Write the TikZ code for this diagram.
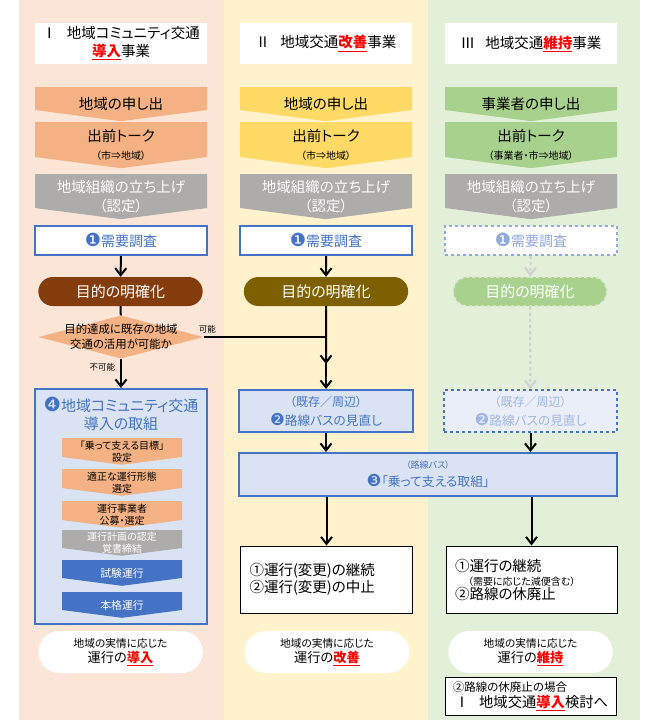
\documentclass[tikz,border=0pt]{standalone}
\usepackage{fontspec}
\setmainfont[RawFeature=+palt]{Noto Sans CJK JP}
\newfontfamily\simboli[Scale=1.3]{DejaVu Sans}
\usetikzlibrary{shapes.geometric,shapes.misc,arrows.meta}

\definecolor{sfondoA}{HTML}{FBE5D6}
\definecolor{sfondoB}{HTML}{FFF2CC}
\definecolor{sfondoC}{HTML}{E2F0D9}
\definecolor{arancio}{HTML}{F4B183}
\definecolor{giallo}{HTML}{FFD966}
\definecolor{verde}{HTML}{A9D18E}
\definecolor{grigio}{HTML}{AEABAB}
\definecolor{blu}{HTML}{4472C4}
\definecolor{azzurro}{HTML}{DAE3F3}
\definecolor{marrone}{HTML}{843C0C}
\definecolor{oliva}{HTML}{7F6000}
\definecolor{tenue}{HTML}{8FAADC}
\definecolor{traccia}{HTML}{D0CECE}

\newcommand{\rosso}[1]{\textcolor{red}{\bfseries\underline{#1}}}
\newcommand{\cerchio}[1]{{\simboli #1}}
\newcommand{\dimf}[2]{\fontsize{#1}{#2}\selectfont}

% freccia: nome, x, y alto, y basso, larghezza, colore, stile, testo
\newcommand{\freccia}[8]{%
  \fill[#6] (#2-#5/2,#3) -- (#2+#5/2,#3) -- (#2+#5/2,#4) -- (#2,#4+0.065*#5) -- (#2-#5/2,#4) -- cycle;
  \node[#7] (#1) at (#2,{(#3+#4+0.065*#5)/2}) {#8};}

\begin{document}
\begin{tikzpicture}[x=1pt, y=-1pt, >={Straight Barb[length=7pt,width=11pt]},
  titolo/.style={fill=white, minimum width=172pt, minimum height=41pt, align=center, inner sep=0pt, font=\dimf{14.5}{18}},
  passo/.style={align=center, inner sep=0pt, font=\dimf{14.5}{18.5}},
  minipasso/.style={align=center, inner sep=0pt, font=\dimf{10}{12}},
  indagine/.style={draw=blu, line width=2pt, fill=white, text=blu, minimum width=172pt, minimum height=29pt, font=\dimf{14}{17}},
  scopo/.style={rounded rectangle, minimum width=171pt, minimum height=29pt, text=white, font=\dimf{15}{18}},
  rombo/.style={diamond, fill=arancio, minimum width=165pt, minimum height=43pt, inner sep=0pt},
  riquadro/.style={draw=blu, line width=2pt, fill=azzurro, text=blu, align=center},
  esito/.style={draw, line width=1pt, fill=white, minimum height=67pt, text width=154pt, inner xsep=9pt, align=left, font=\dimf{14.5}{17}},
  meta/.style={rounded rectangle, fill=white, minimum width=171pt, minimum height=42pt, align=center, font=\dimf{13.2}{15}},
  arco/.style={->, line width=2pt},
  traccia/.style={->, line width=2pt, draw=traccia, dashed}]

    % Disegna lo sfondo delle colonne
    \useasboundingbox (0,0) rectangle (652,720);
    \fill[white] (0,0) rectangle (652,720);
    \fill[sfondoA] (19,0) rectangle (224,720);
    \fill[sfondoB] (224,0) rectangle (428,720);
    \fill[sfondoC] (428,0) rectangle (640,720);

    % Titoli
    \node[titolo] (titA) at (121,43.5) {Ⅰ\hspace{0.7em}地域コミュニティ交通\\\rosso{導入}事業};
    \node[titolo] (titB) at (326,43.5) {Ⅱ\hspace{0.7em}地域交通\rosso{改善}事業};
    \node[titolo] (titC) at (531,43.5) {Ⅲ\hspace{0.7em}地域交通\rosso{維持}事業};

    % Passi iniziali
    \freccia{richA}{121}{87}{110}{172}{arancio}{passo}{地域の申し出}
    \freccia{richB}{326}{87}{110}{172}{giallo}{passo}{地域の申し出}
    \freccia{richC}{531}{87}{110}{172}{verde}{passo}{事業者の申し出}

    \freccia{tokA}{121}{122}{157}{172}{arancio}{passo}{出前トーク\\{\dimf{10}{12}（市⇒地域）}}
    \freccia{tokB}{326}{122}{157}{172}{giallo}{passo}{出前トーク\\{\dimf{10}{12}（市⇒地域）}}
    \freccia{tokC}{531}{122}{157}{172}{verde}{passo}{出前トーク\\{\dimf{10}{12}（事業者・市⇒地域）}}

    \freccia{orgA}{121}{174}{208}{172}{grigio}{passo, text=white}{地域組織の立ち上げ\\（認定）}
    \freccia{orgB}{326}{174}{208}{172}{grigio}{passo, text=white}{地域組織の立ち上げ\\（認定）}
    \freccia{orgC}{531}{174}{208}{172}{grigio}{passo, text=white}{地域組織の立ち上げ\\（認定）}

    % Disegna i nodi del flusso
    \node[indagine] (indA) at (121,240.5) {\cerchio{❶}需要調査};
    \node[indagine] (indB) at (326,240.5) {\cerchio{❶}需要調査};
    \node[indagine, draw=tenue, dashed, text=tenue] (indC) at (531,240.5) {\cerchio{❶}需要調査};

    \node[scopo, fill=marrone] (mobA) at (120.5,291.5) {目的の明確化};
    \node[scopo, fill=oliva] (mobB) at (326,291.5) {目的の明確化};
    \node[scopo, fill=verde, draw=white!55!verde, dashed, line width=1.5pt, minimum width=160pt] (mobC) at (530,291.5) {目的の明確化};

    \node[rombo] (dec) at (121,337) {};
    \node[align=center, inner sep=0pt, font=\dimf{11.4}{15}] (decT) at (dec) {目的達成に既存の地域\\交通の活用が可能か};

    \node[riquadro, minimum width=172pt, minimum height=235pt] (box4) at (121,506.5) {};
    \node[align=center, text=blu, inner sep=0pt, font=\dimf{15}{18}] (tit4) at (121,414) {\cerchio{❹}地域コミュニティ交通\\導入の取組};

    \freccia{fasA}{122}{438}{457}{120}{arancio}{minipasso}{「乗って支える目標」\\設定}
    \freccia{fasB}{122}{469}{488}{120}{arancio}{minipasso}{適正な運行形態\\選定}
    \freccia{fasC}{122}{501}{520}{120}{arancio}{minipasso}{運行事業者\\公募・選定}
    \freccia{fasD}{122}{530}{548}{120}{grigio}{minipasso, text=white}{運行計画の認定\\覚書締結}
    \freccia{fasE}{122}{560}{578}{120}{blu}{minipasso, text=white, font=\dimf{10.8}{12}}{試験運行}
    \freccia{fasF}{122}{592}{610}{120}{blu}{minipasso, text=white, font=\dimf{10.8}{12}}{本格運行}

    \node[riquadro, minimum width=174pt, minimum height=42pt, font=\dimf{12.7}{19}] (revB) at (326,411) {{\dimf{12}{14}（既存／周辺）}\\\cerchio{❷}路線バスの見直し};
    \node[riquadro, dashed, fill=azzurro!60!white, text=tenue!85!white, minimum width=173pt, minimum height=42pt, font=\dimf{12.7}{19}] (revC) at (530.5,411) {{\dimf{12}{14}（既存／周辺）}\\\cerchio{❷}路線バスの見直し};

    \node[riquadro, minimum width=378pt, minimum height=43pt, font=\dimf{12.8}{18}] (box3) at (428,474.5) {{\dimf{9}{11}（路線バス）}\\\cerchio{❸}「乗って支える取組」};

    \node[esito] (esB) at (326.5,579.5) {①運行(変更)の継続\\②運行(変更)の中止};
    \node[esito, text width=153pt] (esC) at (531.5,579.5) {①運行の継続\\[-3pt]\hspace*{13pt}{\dimf{10}{12}（需要に応じた減便含む）}\\[-3pt]②路線の休廃止};

    \node[meta] (finA) at (120.5,652) {{\dimf{10.7}{13}地域の実情に応じた}\\運行の\rosso{導入}};
    \node[meta] (finB) at (327,652) {{\dimf{10.7}{13}地域の実情に応じた}\\運行の\rosso{改善}};
    \node[meta] (finC) at (530.5,652) {{\dimf{10.7}{13}地域の実情に応じた}\\運行の\rosso{維持}};

    \node[draw, line width=1pt, fill=white, minimum width=171pt, minimum height=38pt, inner sep=0pt, align=left, font=\dimf{14.3}{16}] (rinvio) at (530.5,696) {{\dimf{11.5}{13}②路線の休廃止の場合}\\\hspace*{2pt}Ⅰ\hspace{0.7em}地域交通\rosso{導入}検討へ};

    % Disegna gli archi orientati
    \coordinate (giunto) at (dec.east -| revB);
    \coordinate (puntaB) at (326,364);

    \draw[arco] (indA) -- (mobA);
    \draw[line width=2pt] (mobA) -- (dec);
    \draw[arco] (dec.south) -- node[pos=0.28, left, inner sep=5pt, font=\dimf{8.5}{10}] {不可能} (box4.north);
    \draw[line width=2pt] (dec.east) -- node[pos=0.03, above, inner sep=3pt, font=\dimf{8.5}{10}] {可能} (giunto);

    \draw[arco] (indB) -- (mobB);
    \draw[arco] (mobB) -- (puntaB);
    \draw[arco] (giunto) -- (revB);

    \draw[traccia] (indC) -- (mobC);
    \draw[traccia] (mobC) -- (revC);

    \draw[arco] (revB) -- (revB |- box3.north);
    \draw[arco] (revC) -- (revC |- box3.north);
    \draw[arco] (esB |- box3.south) -- (esB);
    \draw[arco] (esC |- box3.south) -- (esC);

\end{tikzpicture}
\end{document}
